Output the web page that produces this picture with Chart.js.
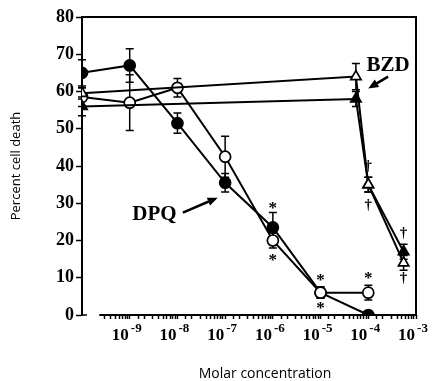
<!DOCTYPE html>
<html>
<head>
<meta charset="utf-8">
<script src="https://cdn.jsdelivr.net/npm/chart.js@4"></script>
<style>
  html, body { margin: 0; padding: 0; background: #fff; }
  canvas { display: block; }
</style>
</head>
<body>
<canvas id="chart" width="441" height="381"></canvas>
<script>
// Molar concentrations (x); the first point is the control sitting on the y axis
const doseCircles = [1e-10, 1e-9, 1e-8, 1e-7, 1e-6, 1e-5, 1e-4];
const doseTriangles = [1e-10, 5.5e-5, 1e-4, 5.5e-4];

// DPQ series (filled and open circles)
const dpqFilled = [65, 67, 51.5, 35.5, 23.5, 6, 0];
const dpqFilledErr = [3.5, 4.5, 2.7, 2.5, 4, 1.5, 1];
const dpqOpen = [58.5, 57, 61, 42.5, 20, 6, 6];
const dpqOpenErr = [2.5, 7.5, 2.5, 5.5, 2, 1.5, 2];

// BZD series (open and filled triangles)
const bzdOpen = [59.5, 64, 35, 14];
const bzdOpenErr = [1.5, 3.5, 2, 2];
const bzdFilled = [56, 58, 35, 17];
const bzdFilledErr = [2.5, 2, 2, 2];

// x tick labels: decade exponents shown under the axis
const xTickExponents = [-9, -8, -7, -6, -5, -4, -3];

// significance marks: [x, y, symbol]
const marks = [
  [1e-6, 29.5, '*'], [1e-6, 15.5, '*'],
  [1e-5, 10, '*'], [1e-5, 2.5, '*'],
  [1e-4, 10.5, '*'],
  [1e-4, 40, '†'], [1e-4, 29.5, '†'],
  [5.5e-4, 22, '†'], [5.5e-4, 10, '†']
];

// text labels with arrows: text at (x, y), arrow from (ax0, ay0) to (ax1, ay1)
const callouts = [
  { text: 'DPQ', x: 3.3e-9, y: 27, ax0: 1.3e-8, ay0: 27.5, ax1: 7e-8, ay1: 31.5 },
  { text: 'BZD', x: 2.6e-4, y: 67, ax0: 2.6e-4, ay0: 64, ax1: 1.0e-4, ay1: 60.8 }
];

function pts(xs, ys) {
  return xs.map((x, i) => ({ x: x, y: ys[i] }));
}

const serif = '"Liberation Serif", "DejaVu Serif", serif';
const sans = '"Open Sans", "Noto Sans", sans-serif';

const errorBars = {
  id: 'errorBars',
  beforeDatasetsDraw(chart) {
    const ctx = chart.ctx;
    const yScale = chart.scales.y;
    ctx.save();
    ctx.strokeStyle = '#000';
    ctx.lineWidth = 1.5;
    chart.data.datasets.forEach((ds, di) => {
      const meta = chart.getDatasetMeta(di);
      meta.data.forEach((el, i) => {
        const e = ds.errors[i];
        if (!e) return;
        const v = ds.data[i].y;
        const top = yScale.getPixelForValue(v + e);
        const bot = yScale.getPixelForValue(Math.max(0, v - e));
        ctx.beginPath();
        ctx.moveTo(el.x, top); ctx.lineTo(el.x, bot);
        ctx.moveTo(el.x - 4, top); ctx.lineTo(el.x + 4, top);
        ctx.moveTo(el.x - 4, bot); ctx.lineTo(el.x + 4, bot);
        ctx.stroke();
      });
    });
    ctx.restore();
  }
};

const frame = {
  id: 'frame',
  afterDraw(chart) {
    const ctx = chart.ctx;
    const a = chart.chartArea;
    const x = chart.scales.x;
    const y = chart.scales.y;
    ctx.save();
    ctx.strokeStyle = '#000';
    ctx.lineWidth = 2;
    ctx.beginPath();
    ctx.moveTo(a.left, a.top); ctx.lineTo(a.right, a.top);
    ctx.lineTo(a.right, a.bottom);
    ctx.lineTo(x.getPixelForValue(2.3e-10), a.bottom);
    ctx.stroke();
    // small tick to the right of the y axis at 0
    ctx.lineWidth = 1.5;
    ctx.beginPath();
    ctx.moveTo(a.left, a.bottom); ctx.lineTo(a.left + 5, a.bottom);
    ctx.stroke();

    // x tick labels with superscript exponents
    ctx.fillStyle = '#000';
    ctx.textBaseline = 'alphabetic';
    ctx.textAlign = 'left';
    xTickExponents.forEach(p => {
      const px = x.getPixelForValue(Math.pow(10, p));
      ctx.font = 'bold 17px ' + serif;
      const base = '10';
      const bw = ctx.measureText(base).width;
      ctx.font = 'bold 13px ' + serif;
      const sup = '-' + Math.abs(p);
      const sw = ctx.measureText(sup).width;
      const left = px - (bw + 2 + sw) / 2 - 3;
      ctx.font = 'bold 17px ' + serif;
      ctx.fillText(base, left, a.bottom + 25);
      ctx.font = 'bold 13px ' + serif;
      ctx.fillText(sup, left + bw + 2, a.bottom + 17);
    });

    // x axis title
    ctx.font = '14px ' + sans;
    ctx.textAlign = 'center';
    ctx.textBaseline = 'middle';
    ctx.fillText('Molar concentration', 265, 374);

    // significance marks
    marks.forEach(m => {
      ctx.font = (m[2] === '*' ? 'bold 17px ' : 'bold 15px ') + serif;
      ctx.fillText(m[2], x.getPixelForValue(m[0]), y.getPixelForValue(m[1]) + (m[2] === '*' ? 3 : 0));
    });

    // callouts
    callouts.forEach(c => {
      ctx.font = 'bold 21px ' + serif;
      ctx.fillText(c.text, x.getPixelForValue(c.x), y.getPixelForValue(c.y));
      const x0 = x.getPixelForValue(c.ax0), y0 = y.getPixelForValue(c.ay0);
      const x1 = x.getPixelForValue(c.ax1), y1 = y.getPixelForValue(c.ay1);
      const ang = Math.atan2(y1 - y0, x1 - x0);
      ctx.lineWidth = 2.5;
      ctx.beginPath();
      ctx.moveTo(x0, y0);
      ctx.lineTo(x1 - 6 * Math.cos(ang), y1 - 6 * Math.sin(ang));
      ctx.stroke();
      ctx.beginPath();
      ctx.moveTo(x1, y1);
      ctx.lineTo(x1 - 11 * Math.cos(ang - 0.4), y1 - 11 * Math.sin(ang - 0.4));
      ctx.lineTo(x1 - 11 * Math.cos(ang + 0.4), y1 - 11 * Math.sin(ang + 0.4));
      ctx.closePath();
      ctx.fill();
    });
    ctx.restore();
  }
};

function series(label, xs, ys, errs, style, filled, radius) {
  return {
    label: label,
    data: pts(xs, ys),
    errors: errs,
    borderColor: '#000',
    borderWidth: 2,
    pointStyle: style,
    pointRadius: radius,
    pointBorderWidth: 1.7,
    pointBorderColor: '#000',
    pointBackgroundColor: filled ? '#000' : '#fff',
    showLine: true,
    tension: 0
  };
}

new Chart(document.getElementById('chart'), {
  type: 'scatter',
  data: {
    datasets: [
      series('BZD open', doseTriangles, bzdOpen, bzdOpenErr, 'triangle', false, 6),
      series('BZD filled', doseTriangles, bzdFilled, bzdFilledErr, 'triangle', true, 6),
      series('DPQ open', doseCircles, dpqOpen, dpqOpenErr, 'circle', false, 5.5),
      series('DPQ filled', doseCircles, dpqFilled, dpqFilledErr, 'circle', true, 5.5)
    ]
  },
  options: {
    responsive: false,
    animation: false,
    layout: { padding: { top: 17, right: 25, left: 0, bottom: 0 } },
    plugins: { legend: { display: false }, tooltip: { enabled: false } },
    scales: {
      x: {
        type: 'logarithmic',
        min: 1e-10,
        max: 1e-3,
        border: { display: false },
        grid: {
          drawOnChartArea: false,
          tickLength: 4,
          tickWidth: 1.5,
          tickColor: ctx => (ctx.tick && ctx.tick.value < 2.3e-10 ? 'rgba(0,0,0,0)' : '#000')
        },
        ticks: {
          autoSkip: false,
          maxRotation: 0,
          padding: 0,
          callback: () => ''
        },
        afterFit: s => { s.height = 66; }
      },
      y: {
        min: 0,
        max: 80,
        border: { display: true, color: '#000', width: 2 },
        grid: {
          drawOnChartArea: false,
          tickLength: 6,
          tickWidth: 1.5,
          tickColor: '#000'
        },
        ticks: {
          stepSize: 5,
          padding: 2,
          color: '#000',
          font: { family: serif, size: 18, weight: 'bold' },
          callback: v => (v % 10 === 0 ? String(v) : '')
        },
        title: {
          display: true,
          text: 'Percent cell death',
          color: '#000',
          font: { family: sans, size: 13 },
          padding: { top: 8, bottom: 0 }
        },
        afterFit: s => { s.width = 82; }
      }
    }
  },
  plugins: [errorBars, frame]
});
</script>
</body>
</html>
